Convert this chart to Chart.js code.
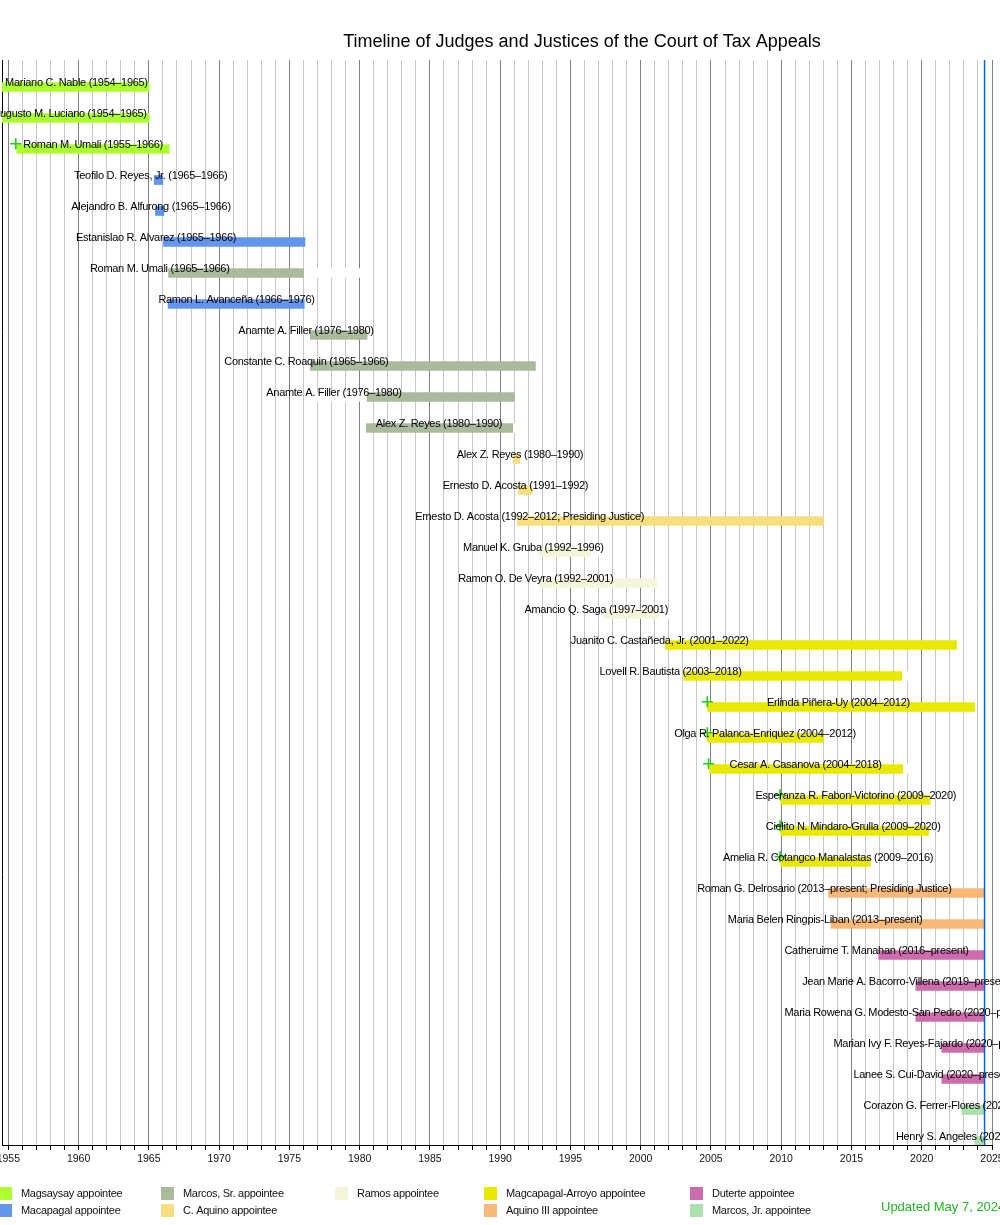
<!DOCTYPE html>
<html>
<head>
<meta charset="utf-8">
<title>Timeline of Judges and Justices of the Court of Tax Appeals</title>
<script src="https://cdn.jsdelivr.net/npm/chart.js@4.4.1/dist/chart.umd.min.js"></script>
<style>
  html, body { margin: 0; padding: 0; background: #fff; }
  #wrap { width: 1000px; height: 1225px; }
</style>
</head>
<body>
<div id="wrap"><canvas id="timelineChart"></canvas></div>
<script>
// one row per term, top to bottom
const judges = [
  "Mariano C. Nable (1954–1965)",
  "Augusto M. Luciano (1954–1965)",
  "Roman M. Umali (1955–1966)",
  "Teofilo D. Reyes, Jr. (1965–1966)",
  "Alejandro B. Alfurong (1965–1966)",
  "Estanislao R. Alvarez (1965–1966)",
  "Roman M. Umali (1965–1966)",
  "Ramon L. Avanceña (1966–1976)",
  "Anamte A. Filler (1976–1980)",
  "Constante C. Roaquin (1965–1966)",
  "Anamte A. Filler (1976–1980)",
  "Alex Z. Reyes (1980–1990)",
  "Alex Z. Reyes (1980–1990)",
  "Ernesto D. Acosta (1991–1992)",
  "Ernesto D. Acosta (1992–2012; Presiding Justice)",
  "Manuel K. Gruba (1992–1996)",
  "Ramon O. De Veyra (1992–2001)",
  "Amancio Q. Saga (1997–2001)",
  "Juanito C. Castañeda, Jr. (2001–2022)",
  "Lovell R. Bautista (2003–2018)",
  "Erlinda Piñera-Uy (2004–2012)",
  "Olga R. Palanca-Enriquez (2004–2012)",
  "Cesar A. Casanova (2004–2018)",
  "Esperanza R. Fabon-Victorino (2009–2020)",
  "Cielito N. Mindaro-Grulla (2009–2020)",
  "Amelia R. Cotangco Manalastas (2009–2016)",
  "Roman G. Delrosario (2013–present; Presiding Justice)",
  "Maria Belen Ringpis-Liban (2013–present)",
  "Catheruime T. Manahan (2016–present)",
  "Jean Marie A. Bacorro-Villena (2019–present)",
  "Maria Rowena G. Modesto-San Pedro (2020–present)",
  "Marian Ivy F. Reyes-Fajardo (2020–present)",
  "Lanee S. Cui-David (2020–present)",
  "Corazon G. Ferrer-Flores (2023–present)",
  "Henry S. Angeles (2023–present)"
];

const today = 2024.47; // Updated May 7, 2024

const termStart = [
  1954.5, 1954.5, 1955.6, 1965.38, 1965.47, 1966.04, 1966.4, 1966.37,
  1976.49, 1976.49, 1980.48, 1980.48, 1990.93, 1991.3, 1991.23,
  1992.75, 1992.75, 1997.38, 2001.77, 2003.08, 2004.76, 2004.76, 2004.91,
  2009.97, 2009.97, 2009.97, 2013.37, 2013.54, 2016.94, 2019.58, 2019.58,
  2021.43, 2021.43, 2022.85, 2023.78
];
const termEnd = [
  1965.02, 1965.02, 1966.45, 1966.0, 1966.07, 1976.11, 1976.06, 1976.06,
  1980.53, 1992.51, 1991.02, 1990.95, 1991.38, 1992.27, 2013.0,
  1996.48, 2001.18, 2001.32, 2022.48, 2018.63, 2023.77, 2012.99, 2018.7,
  2020.6, 2020.48, 2016.34, today, today, today, today, today,
  today, today, today, today
];

// index into groups
const appointedBy = [
  0, 0, 0, 1, 1, 1, 2, 1, 2, 2, 2, 2, 3, 3, 3, 4, 4, 4,
  5, 5, 5, 5, 5, 5, 5, 5, 6, 6, 7, 7, 7, 7, 7, 8, 8
];

// year where each name label begins
const labelFrom = [
  1954.77, 1953.91, 1956.07, 1959.68, 1959.48, 1959.82, 1960.81, 1965.68,
  1971.37, 1970.37, 1973.36, 1981.15, 1986.91, 1985.92, 1983.95,
  1987.36, 1987.01, 1991.73, 1995.03, 1997.07, 2008.98, 2002.38, 2006.32,
  2008.17, 2008.9, 2005.85, 2004.02, 2006.2, 2010.23, 2011.49, 2010.23,
  2013.72, 2015.14, 2015.86, 2018.16
];

// blank stretches that hide the grid
const gapRow = [6, 10, 11, 15, 16, 17, 19, 22];
const gapStart = [1976.06, 1976.7, 1990.95, 1996.48, 2001.18, 2001.32, 2018.63, 2018.7];
const gapEnd = [1980.05, 1980.48, 1991.38, 1997.14, 2001.63, 2002.88, 2019.08, 2019.08];

// green crosses
const markerRow = [2, 20, 21, 22, 23, 24, 25];
const markerYear = [1955.53, 2004.74, 2004.74, 2004.83, 2009.92, 2009.92, 2009.92];

const groups = [
  "Magsaysay appointee", "Macapagal appointee", "Marcos, Sr. appointee",
  "C. Aquino appointee", "Ramos appointee", "Magcapagal-Arroyo appointee",
  "Aquino III appointee", "Duterte appointee", "Marcos, Jr. appointee"
];
const groupColors = [
  "#adff2f", "#6495ed", "#a9ba9d", "#f8de7e", "#f5f5dc",
  "#e8e800", "#f8b878", "#cc6cac", "#ace1af"
];
const legendColumns = [[0, 1], [2, 3], [4], [5, 6], [7, 8]];

const FONT = "'Liberation Sans', Arial, sans-serif";

const datasets = groups.map(function (name, g) {
  const rows = [];
  judges.forEach(function (j, i) {
    if (appointedBy[i] === g) rows.push({ x: [termStart[i], termEnd[i]], y: i });
  });
  return {
    type: "bar",
    label: name,
    data: rows,
    backgroundColor: groupColors[g],
    borderWidth: 0,
    barThickness: 9,
    grouped: false,
    order: 2
  };
});

datasets.push({
  type: "bar",
  label: "gap",
  data: gapRow.map(function (r, k) { return { x: [gapStart[k], gapEnd[k]], y: r }; }),
  backgroundColor: "#ffffff",
  borderWidth: 0,
  barThickness: 9,
  grouped: false,
  order: 1
});

datasets.push({
  type: "scatter",
  label: "marker",
  data: markerRow.map(function (r, k) { return { x: markerYear[k], y: r - 0.17 }; }),
  pointStyle: "cross",
  radius: 5.5,
  borderWidth: 1.6,
  borderColor: "#1ecc1e",
  backgroundColor: "#1ecc1e",
  order: 0
});

const decorations = {
  id: "decorations",
  afterDatasetsDraw(chart) {
    const ctx = chart.ctx;
    const xs = chart.scales.x, ys = chart.scales.y, area = chart.chartArea;
    ctx.save();
    // today line
    const tx = xs.getPixelForValue(today);
    ctx.strokeStyle = "#0066dd";
    ctx.lineWidth = 1.5;
    ctx.beginPath();
    ctx.moveTo(tx, area.top);
    ctx.lineTo(tx, area.bottom);
    ctx.stroke();
    // name labels
    ctx.fillStyle = "#000";
    ctx.font = "11px " + FONT;
    ctx.letterSpacing = "-0.3px";
    ctx.textAlign = "left";
    ctx.textBaseline = "middle";
    judges.forEach(function (name, i) {
      ctx.fillText(name, xs.getPixelForValue(labelFrom[i]), ys.getPixelForValue(i) - 4);
    });
    ctx.letterSpacing = "0px";
    ctx.restore();
  },
  afterDraw(chart) {
    const ctx = chart.ctx, area = chart.chartArea;
    ctx.save();
    // title
    ctx.fillStyle = "#000";
    ctx.font = "18px " + FONT;
    ctx.textAlign = "center";
    ctx.textBaseline = "middle";
    ctx.fillText("Timeline of Judges and Justices of the Court of Tax Appeals", 582, 42);
    // legend, column by column
    const colX = [-1, 161, 335, 484, 690];
    ctx.font = "11px " + FONT;
    ctx.letterSpacing = "-0.3px";
    ctx.textAlign = "left";
    legendColumns.forEach(function (col, c) {
      col.forEach(function (g, k) {
        const top = area.bottom + 42 + k * 17;
        ctx.fillStyle = groupColors[g];
        ctx.fillRect(colX[c], top, 13, 13);
        ctx.fillStyle = "#111";
        ctx.fillText(groups[g], colX[c] + 22, top + 7);
      });
    });
    ctx.letterSpacing = "0px";
    // update note
    ctx.fillStyle = "#22b422";
    ctx.font = "13px " + FONT;
    ctx.fillText("Updated May 7, 2024", 881, area.bottom + 62);
    ctx.restore();
  }
};

new Chart(document.getElementById("timelineChart").getContext("2d"), {
  type: "bar",
  data: { datasets: datasets },
  plugins: [decorations],
  options: {
    indexAxis: "y",
    responsive: true,
    maintainAspectRatio: false,
    animation: false,
    layout: { autoPadding: false, padding: { top: 60, right: 8, left: 0, bottom: 0 } },
    plugins: {
      legend: { display: false },
      title: { display: false },
      tooltip: { enabled: false }
    },
    scales: {
      x: {
        type: "linear",
        position: "bottom",
        min: 1954.55,
        max: 2025,
        afterFit: function (s) { s.height = 80; s.paddingLeft = 0; s.paddingRight = 0; },
        afterBuildTicks: function (s) {
          const t = [];
          for (let yr = 1955; yr <= 2025; yr++) t.push({ value: yr });
          s.ticks = t;
        },
        ticks: {
          autoSkip: false,
          maxRotation: 0,
          padding: 3,
          color: "#111",
          font: { size: 10.5, family: FONT },
          callback: function (v) { return Math.round(v) % 5 === 0 ? String(Math.round(v)) : ""; }
        },
        grid: {
          lineWidth: 1,
          tickLength: 5,
          color: function (c) {
            const v = c.tick ? c.tick.value : 0;
            return Math.round(v) % 5 === 0 ? "#808080" : "#c8c8c8";
          },
          tickColor: "#000"
        },
        border: { color: "#000", width: 1 }
      },
      y: {
        type: "linear",
        reverse: true,
        offset: false,
        min: -0.871,
        max: 34.129,
        afterFit: function (s) { s.width = 2; },
        ticks: { display: false },
        grid: { display: false, offset: false },
        border: { color: "#000", width: 1 }
      }
    }
  }
});
</script>
</body>
</html>
